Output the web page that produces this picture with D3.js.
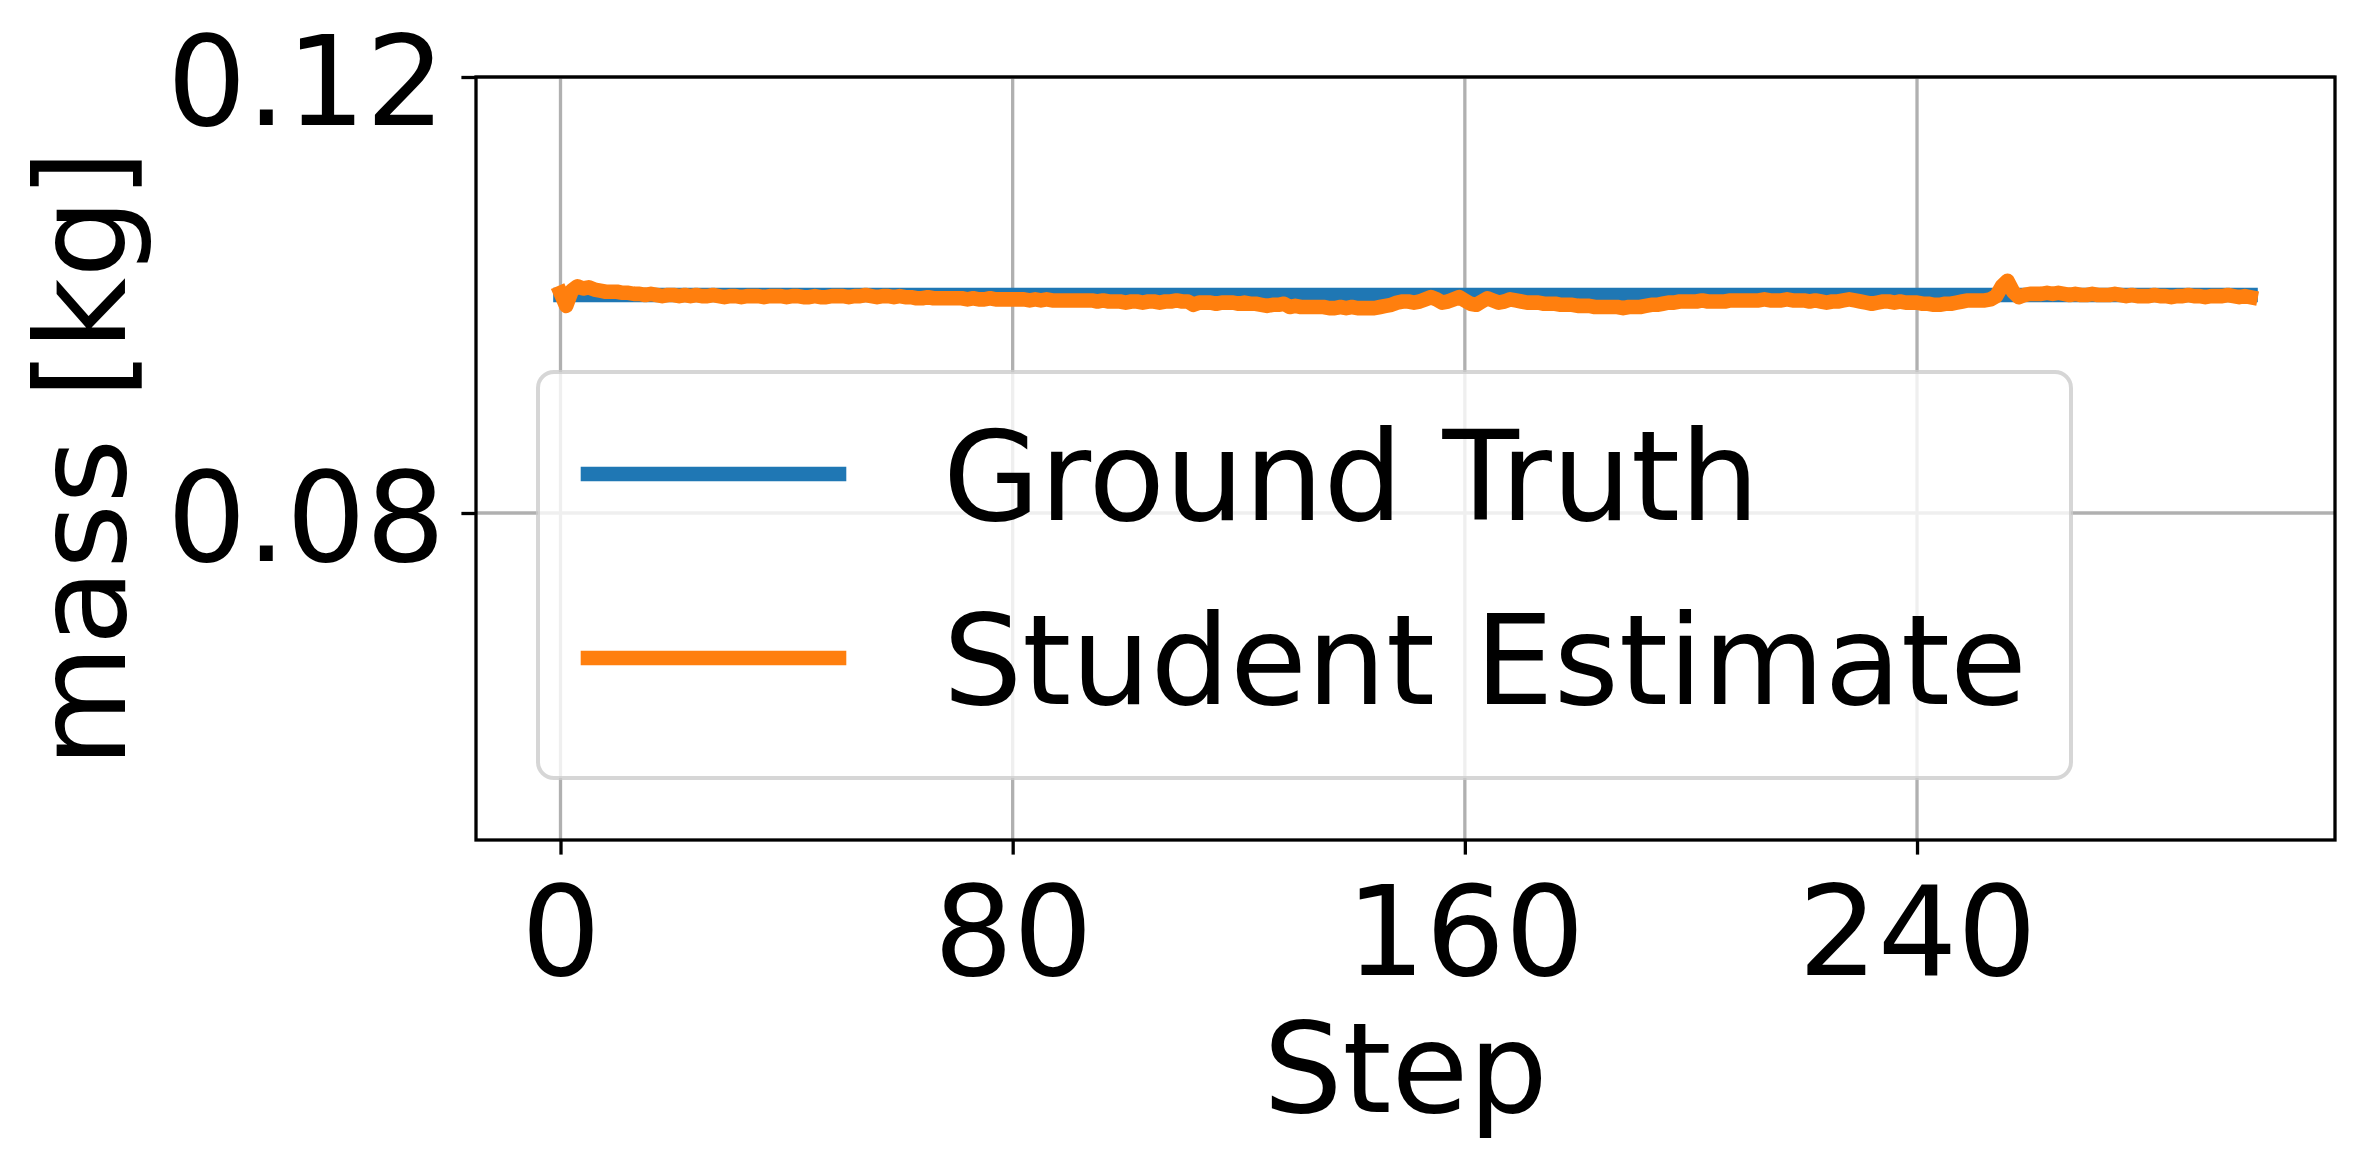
<!DOCTYPE html>
<html>
<head>
<meta charset="utf-8">
<script src="https://cdn.jsdelivr.net/npm/d3@7"></script>
<style>
  html, body { margin: 0; padding: 0; background: #fff; }
  svg { display: block; }
  text { font-family: "DejaVu Sans", sans-serif; }
</style>
</head>
<body>
<svg id="chart" width="2364" height="1158"></svg>
<script>
// ---- data ----
const seriesNames = ["Ground Truth", "Student Estimate"];
const groundTruth = 0.1;
const studentEstimate = [
  0.1002, 0.0990, 0.1004, 0.1008, 0.1006, 0.1007, 0.1005, 0.1004, 0.1003, 0.1003,
  0.1003, 0.1002, 0.1002, 0.1001, 0.1001, 0.1000, 0.1001, 0.1000, 0.0999, 0.1000,
  0.1000, 0.0999, 0.1000, 0.0999, 0.1000, 0.0999, 0.0999, 0.1000, 0.0999, 0.0998,
  0.0999, 0.0999, 0.0998, 0.0999, 0.0999, 0.0999, 0.0998, 0.0999, 0.0999, 0.0999,
  0.0998, 0.0999, 0.0999, 0.0998, 0.0998, 0.0999, 0.0998, 0.0998, 0.0999, 0.0999,
  0.0999, 0.0998, 0.0999, 0.0999, 0.1000, 0.0999, 0.0998, 0.0999, 0.0999, 0.0998,
  0.0999, 0.0998, 0.0998, 0.0997, 0.0997, 0.0998, 0.0997, 0.0997, 0.0997, 0.0997,
  0.0997, 0.0997, 0.0996, 0.0997, 0.0996, 0.0996, 0.0997, 0.0996, 0.0996, 0.0996,
  0.0996, 0.0996, 0.0996, 0.0995, 0.0996, 0.0995, 0.0996, 0.0995, 0.0995, 0.0995,
  0.0995, 0.0995, 0.0995, 0.0995, 0.0995, 0.0994, 0.0995, 0.0994, 0.0994, 0.0994,
  0.0993, 0.0994, 0.0994, 0.0993, 0.0994, 0.0994, 0.0993, 0.0994, 0.0994, 0.0995,
  0.0994, 0.0994, 0.0991, 0.0993, 0.0993, 0.0993, 0.0992, 0.0993, 0.0993, 0.0993,
  0.0992, 0.0993, 0.0992, 0.0992, 0.0991, 0.0990, 0.0991, 0.0991, 0.0992, 0.0989,
  0.0990, 0.0989, 0.0989, 0.0989, 0.0989, 0.0989, 0.0988, 0.0988, 0.0989, 0.0988,
  0.0989, 0.0988, 0.0988, 0.0988, 0.0988, 0.0989, 0.0990, 0.0991, 0.0993, 0.0994,
  0.0994, 0.0993, 0.0994, 0.0996, 0.0998, 0.0996, 0.0993, 0.0994, 0.0996, 0.0998,
  0.0995, 0.0992, 0.0991, 0.0994, 0.0997, 0.0995, 0.0993, 0.0994, 0.0996, 0.0995,
  0.0994, 0.0993, 0.0993, 0.0993, 0.0992, 0.0992, 0.0992, 0.0991, 0.0991, 0.0991,
  0.0990, 0.0990, 0.0990, 0.0989, 0.0989, 0.0989, 0.0989, 0.0989, 0.0988, 0.0989,
  0.0989, 0.0989, 0.0990, 0.0991, 0.0991, 0.0992, 0.0993, 0.0993, 0.0994, 0.0994,
  0.0994, 0.0994, 0.0995, 0.0994, 0.0994, 0.0994, 0.0994, 0.0995, 0.0995, 0.0995,
  0.0995, 0.0995, 0.0995, 0.0996, 0.0995, 0.0995, 0.0995, 0.0996, 0.0995, 0.0995,
  0.0995, 0.0994, 0.0995, 0.0994, 0.0993, 0.0994, 0.0994, 0.0995, 0.0996, 0.0995,
  0.0994, 0.0993, 0.0992, 0.0993, 0.0994, 0.0994, 0.0993, 0.0994, 0.0993, 0.0993,
  0.0993, 0.0992, 0.0992, 0.0991, 0.0991, 0.0992, 0.0992, 0.0993, 0.0994, 0.0995,
  0.0995, 0.0995, 0.0995, 0.0996, 0.0999, 0.1008, 0.1013, 0.1003, 0.0998, 0.1000,
  0.1001, 0.1001, 0.1001, 0.1002, 0.1001, 0.1002, 0.1001, 0.1000, 0.1001, 0.1000,
  0.1000, 0.1001, 0.1000, 0.1000, 0.1000, 0.1001, 0.1000, 0.0999, 0.1000, 0.0999,
  0.0999, 0.0999, 0.1000, 0.0999, 0.0999, 0.0998, 0.0999, 0.0999, 0.1000, 0.0999,
  0.0999, 0.0998, 0.0999, 0.0999, 0.0999, 0.1000, 0.0999, 0.0998, 0.0999, 0.0998
];
const xTicks = [0, 80, 160, 240];
const yTicks = [0.08, 0.12];
const yTickLabels = ["0.08", "0.12"];
const xLabel = "Step";
const yLabel = "mass [kg]";
const colors = ["#1f77b4", "#ff7f0e"];

// ---- layout ----
const W = 2364, H = 1158;
const plot = { left: 476, right: 2335, top: 77, bottom: 840 };
const fontPx = 125;
const lw = 14.6;
const tickLen = 14.6;

const svg = d3.select("#chart");

const steps = studentEstimate.map((_, i) => i);
const gtSeries = steps.map(s => ({ s, v: groundTruth }));
const stSeries = steps.map(s => ({ s, v: studentEstimate[s] }));

const nMax = steps.length - 1;
const pad = nMax * 0.05;
const x = d3.scaleLinear().domain([-pad, nMax + pad]).range([plot.left, plot.right]);
const y = d3.scaleLinear().domain([0.05, 0.12]).range([plot.bottom, plot.top]);

// grid
const grid = svg.append("g");
grid.selectAll("line.gx").data(xTicks).join("line")
  .attr("x1", d => x(d)).attr("x2", d => x(d))
  .attr("y1", plot.top).attr("y2", plot.bottom)
  .attr("stroke", "#b0b0b0").attr("stroke-width", 3.3);
grid.selectAll("line.gy").data(yTicks).join("line")
  .attr("x1", plot.left).attr("x2", plot.right)
  .attr("y1", d => y(d)).attr("y2", d => y(d))
  .attr("stroke", "#b0b0b0").attr("stroke-width", 3.3);

// lines
const line = d3.line().x(d => x(d.s)).y(d => y(d.v));
svg.append("path").datum(gtSeries).attr("d", line)
  .attr("fill", "none").attr("stroke", colors[0]).attr("stroke-width", lw)
  .attr("stroke-linecap", "square").attr("stroke-linejoin", "round");
svg.append("path").datum(stSeries).attr("d", line)
  .attr("fill", "none").attr("stroke", colors[1]).attr("stroke-width", lw)
  .attr("stroke-linecap", "square").attr("stroke-linejoin", "round");

// axes
const xAxis = d3.axisBottom(x).tickValues(xTicks).tickSize(tickLen).tickPadding(14.6).tickFormat(d3.format("d"));
const yAxis = d3.axisLeft(y).tickValues(yTicks).tickSize(tickLen).tickPadding(16)
  .tickFormat((d, i) => yTickLabels[i]);

const gx = svg.append("g").attr("transform", `translate(0,${plot.bottom})`).call(xAxis);
const gy = svg.append("g").attr("transform", `translate(${plot.left},0)`).call(yAxis);
[gx, gy].forEach(g => {
  g.select(".domain").remove();
  g.selectAll(".tick line").attr("stroke", "#000").attr("stroke-width", 3.3);
  g.selectAll(".tick text").attr("fill", "#000").attr("font-size", fontPx)
    .attr("font-family", "DejaVu Sans, sans-serif");
});
gx.selectAll(".tick text").attr("dy", "0.85em");
gy.selectAll(".tick text").attr("dy", "0.38em");

// spines
svg.append("rect")
  .attr("x", plot.left).attr("y", plot.top)
  .attr("width", plot.right - plot.left).attr("height", plot.bottom - plot.top)
  .attr("fill", "none").attr("stroke", "#000").attr("stroke-width", 3.3);

// axis labels
svg.append("text").attr("x", (plot.left + plot.right) / 2).attr("y", 1112)
  .attr("text-anchor", "middle").attr("font-size", fontPx).attr("fill", "#000")
  .text(xLabel);
svg.append("text")
  .attr("transform", `translate(125,${(plot.top + plot.bottom) / 2}) rotate(-90)`)
  .attr("text-anchor", "middle").attr("font-size", fontPx).attr("fill", "#000")
  .text(yLabel);

// legend
const lg = svg.append("g");
lg.append("rect").attr("x", 538).attr("y", 372).attr("width", 2071 - 538).attr("height", 778 - 372)
  .attr("rx", 16).attr("ry", 16)
  .attr("fill", "rgba(255,255,255,0.8)").attr("stroke", "#cccccc").attr("stroke-opacity", 0.8)
  .attr("stroke-width", 4);
const legendRows = [474, 658];
seriesNames.forEach((name, i) => {
  lg.append("line").attr("x1", 588).attr("x2", 839)
    .attr("y1", legendRows[i]).attr("y2", legendRows[i])
    .attr("stroke", colors[i]).attr("stroke-width", lw).attr("stroke-linecap", "square");
  lg.append("text").attr("x", 943).attr("y", legendRows[i]).attr("dy", "0.37em")
    .attr("font-size", fontPx).attr("fill", "#000").text(name);
});
</script>
</body>
</html>
